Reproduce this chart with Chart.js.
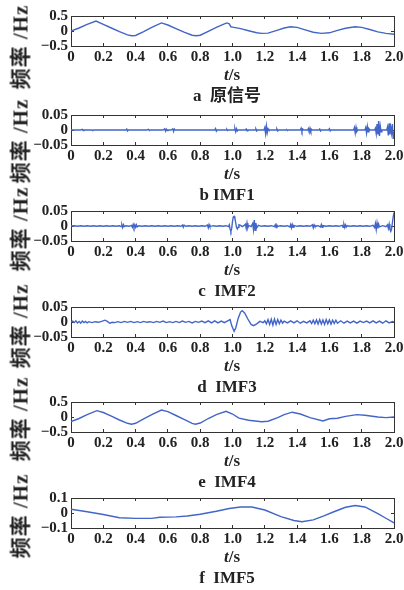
<!DOCTYPE html>
<html>
<head>
<meta charset="utf-8">
<script src="https://cdn.jsdelivr.net/npm/chart.js@4.4.0/dist/chart.umd.min.js"></script>
<style>
  html, body { margin: 0; padding: 0; background: #fff; }
  body { width: 404px; height: 590px; overflow: hidden; position: relative; }
  canvas { position: absolute; left: 0; }
  .lbl {
    position: absolute; white-space: pre; color: #222; line-height: 1;
    font-family: "Liberation Serif", "Noto Sans CJK SC", serif; font-weight: bold;
    transform: translate(-50%, -50%);
  }
  .ylab { font-size: 21px; letter-spacing: 1px; transform: translate(-50%, -50%) rotate(-90deg); }
  .xlab { font-size: 17px; }
  .ttl { font-size: 17px; }
</style>
</head>
<body>
<script>
// ---data---

var xTicks = [0, 0.2, 0.4, 0.6, 0.8, 1.0, 1.2, 1.4, 1.6, 1.8, 2.0];
var xTickLabels = ["0", "0.2", "0.4", "0.6", "0.8", "1.0", "1.2", "1.4", "1.6", "1.8", "2.0"];

var yTicksHalf = [-0.5, 0, 0.5];
var yLabelsHalf = ["\u22120.5", "0", "0.5"];
var yTicksSmall = [-0.05, 0, 0.05];
var yLabelsSmall = ["\u22120.05", "0", "0.05"];
var yTicksTenth = [-0.1, 0, 0.1];
var yLabelsTenth = ["\u22120.1", "0", "0.1"];

var titles = ["a  原信号", "b IMF1", "c  IMF2", "d  IMF3", "e  IMF4", "f  IMF5"];
var yTitle = "频率 /Hz";

// a: original signal
var aT = [0, 0.05, 0.1, 0.155, 0.2, 0.25, 0.3, 0.35, 0.375, 0.4, 0.45, 0.5, 0.56, 0.6, 0.65, 0.7, 0.75, 0.775, 0.8,
  0.85, 0.9, 0.95, 0.965, 0.98, 0.99, 1.0, 1.05, 1.1, 1.15, 1.18, 1.22, 1.28, 1.32, 1.36, 1.4, 1.45, 1.5, 1.55,
  1.6, 1.65, 1.7, 1.76, 1.8, 1.85, 1.9, 1.95, 2.0];
var aV = [0, 0.1, 0.22, 0.33, 0.22, 0.1, -0.02, -0.13, -0.16, -0.15, -0.02, 0.12, 0.27, 0.2, 0.08, -0.04, -0.14, -0.16, -0.14,
  -0.01, 0.12, 0.24, 0.27, 0.24, 0.14, 0.13, 0.08, 0.01, -0.06, -0.08, -0.07, 0.03, 0.1, 0.14, 0.12, 0.04, -0.04, -0.08,
  -0.06, 0.02, 0.09, 0.14, 0.12, 0.05, -0.03, -0.08, -0.11];

// b: IMF1
var bT = [0, 0.06, 0.07, 0.075, 0.08, 0.13, 0.135, 0.14, 0.34, 0.345, 0.35, 0.355, 0.47, 0.48, 0.485, 0.49,
  0.57, 0.58, 0.585, 0.59, 0.595, 0.6, 0.62, 0.63, 0.635, 0.64, 0.645, 0.89, 0.895, 0.9, 0.905,
  0.96, 0.965, 0.97, 0.975, 1.01, 1.015, 1.02, 1.025, 1.03, 1.035, 1.08, 1.085, 1.09, 1.095,
  1.14, 1.145, 1.15, 1.155, 1.195, 1.2, 1.205, 1.21, 1.215, 1.22, 1.225, 1.27, 1.275, 1.28, 1.285,
  1.33, 1.335, 1.34, 1.345, 1.42, 1.425, 1.43, 1.435, 1.44, 1.465, 1.47, 1.475, 1.48, 1.485, 1.49, 1.495,
  1.535, 1.54, 1.545, 1.55, 1.595, 1.6, 1.605, 1.61, 1.75, 1.755, 1.76, 1.765, 1.77, 1.775,
  1.82, 1.825, 1.83, 1.835, 1.84, 1.845, 1.85, 1.88, 1.885, 1.89, 1.895, 1.9, 1.905, 1.91, 1.915, 1.92, 1.925,
  1.955, 1.96, 1.965, 1.97, 1.975, 1.98, 1.985, 1.99, 1.995, 2.0];
var bV = [0, 0, 0.002, -0.002, 0, 0, -0.002, 0, 0, 0.003, -0.003, 0, 0, 0.002, -0.002, 0,
  0, 0.004, -0.004, 0.003, -0.002, 0, 0, 0.004, -0.005, 0.003, 0, 0, 0.005, -0.004, 0,
  0, 0.002, -0.002, 0, 0, 0.005, -0.006, 0.004, -0.003, 0, 0, 0.003, -0.003, 0,
  0, 0.003, -0.003, 0, 0, 0.008, -0.012, 0.013, -0.009, 0.004, 0, 0, 0.003, -0.003, 0,
  0, 0.002, -0.002, 0, 0, 0.006, -0.005, 0.003, 0, 0, 0.005, -0.007, 0.006, -0.004, 0.002, 0,
  0, 0.003, -0.003, 0, 0, 0.004, -0.003, 0, 0, 0.008, -0.01, 0.009, -0.005, 0,
  0, 0.008, -0.01, 0.012, -0.006, 0.004, 0, 0, 0.006, -0.012, 0.02, -0.015, 0.03, -0.02, 0.012, -0.006, 0,
  0, 0.01, -0.018, 0.022, -0.015, 0.008, -0.01, 0.02, -0.03, -0.005];

// c: IMF2
var cT = [0, 0.02, 0.04, 0.06, 0.08, 0.1, 0.12, 0.14, 0.16, 0.18, 0.2, 0.22, 0.24, 0.26, 0.28, 0.3,
  0.31, 0.315, 0.32, 0.325, 0.33, 0.34, 0.36, 0.375, 0.38, 0.385, 0.39, 0.395, 0.4, 0.405, 0.41,
  0.42, 0.44, 0.46, 0.48, 0.5, 0.52, 0.54, 0.56, 0.58, 0.6, 0.62, 0.64, 0.66, 0.68, 0.69, 0.695, 0.7,
  0.71, 0.73, 0.75, 0.77, 0.79, 0.81, 0.83, 0.845, 0.85, 0.855, 0.86, 0.88, 0.9, 0.92, 0.94, 0.96,
  0.975, 0.98, 0.985, 0.99, 0.995, 1.0, 1.005, 1.01, 1.015, 1.02, 1.025, 1.03, 1.035, 1.04, 1.05,
  1.06, 1.07, 1.08, 1.085, 1.09, 1.095, 1.1, 1.115, 1.125, 1.13, 1.135, 1.14, 1.145, 1.15, 1.16,
  1.18, 1.2, 1.22, 1.24, 1.26, 1.265, 1.27, 1.275, 1.28, 1.3, 1.32, 1.34, 1.355, 1.36, 1.365, 1.37,
  1.375, 1.38, 1.4, 1.42, 1.44, 1.46, 1.48, 1.495, 1.5, 1.505, 1.51, 1.53, 1.545, 1.55, 1.555, 1.56,
  1.58, 1.6, 1.62, 1.64, 1.66, 1.68, 1.685, 1.69, 1.695, 1.7, 1.705, 1.71, 1.73, 1.75, 1.77, 1.79,
  1.81, 1.83, 1.85, 1.87, 1.88, 1.885, 1.89, 1.895, 1.9, 1.905, 1.91, 1.93, 1.95, 1.96, 1.965, 1.97,
  1.975, 1.98, 1.985, 1.99, 1.995, 2.0];
var cV = [0, 0.001, -0.001, 0.001, -0.001, 0.001, -0.001, 0.001, -0.001, 0.001, -0.001, 0.001, -0.001, 0.001, -0.001, 0.001,
  -0.002, 0.004, -0.005, 0.004, -0.002, 0.001, -0.001, 0.002, -0.004, 0.005, -0.005, 0.004, -0.004, 0.004, -0.003,
  0.001, -0.001, 0.001, -0.001, 0.001, -0.001, 0.001, -0.001, 0.001, -0.001, 0.001, -0.001, 0.001, -0.001, 0.003, -0.004, 0.003,
  -0.001, 0.001, -0.001, 0.001, -0.001, 0.001, -0.001, 0.003, -0.006, 0.005, -0.002, 0.001, -0.001, 0.001, -0.001, 0.001,
  -0.002, 0.004, -0.01, -0.018, -0.008, 0.015, 0.03, 0.032, 0.025, 0.01, -0.005, -0.01, -0.004, 0.004, 0.002,
  -0.002, 0.001, 0.006, -0.008, 0.01, -0.006, 0.002, -0.002, 0.008, -0.012, 0.02, -0.014, 0.01, -0.006, 0.002,
  -0.001, 0.001, -0.001, 0.001, -0.002, 0.004, -0.005, 0.003, -0.001, 0.001, -0.001, 0.001, -0.003, 0.005, -0.006, 0.005,
  -0.004, 0.002, -0.001, 0.001, -0.001, 0.001, -0.001, 0.004, -0.006, 0.004, -0.001, 0.001, -0.003, 0.005, -0.004, 0.001,
  -0.001, 0.001, -0.001, 0.001, -0.001, 0.002, -0.004, 0.005, -0.005, 0.004, -0.003, 0.001, -0.001, 0.001, -0.001, 0.001,
  -0.001, 0.001, -0.001, 0.002, -0.005, 0.008, -0.012, 0.01, -0.008, 0.006, -0.003, 0.001, -0.002, 0.004, -0.008, 0.006,
  -0.012, -0.018, -0.01, 0.01, 0.03, 0.045];

// d: IMF3
var dT = [0, 0.01, 0.02, 0.03, 0.04, 0.05, 0.06, 0.07, 0.08, 0.09, 0.1, 0.11, 0.13, 0.15, 0.17, 0.19, 0.21,
  0.225, 0.24, 0.255, 0.27, 0.29, 0.31, 0.33, 0.35, 0.37, 0.39, 0.41, 0.43, 0.45, 0.47, 0.49, 0.51, 0.53,
  0.55, 0.57, 0.59, 0.61, 0.63, 0.65, 0.67, 0.69, 0.71, 0.73, 0.75, 0.77, 0.79, 0.81, 0.83, 0.85, 0.87,
  0.89, 0.91, 0.93, 0.95, 0.97, 0.985, 0.995, 1.01, 1.02, 1.035, 1.05, 1.06, 1.075, 1.095, 1.115, 1.13,
  1.15, 1.17, 1.19, 1.2, 1.21, 1.22, 1.23, 1.24, 1.25, 1.26, 1.27, 1.28, 1.29, 1.3, 1.31, 1.32, 1.34,
  1.36, 1.38, 1.4, 1.42, 1.44, 1.46, 1.48, 1.49, 1.5, 1.51, 1.52, 1.53, 1.54, 1.55, 1.56, 1.57, 1.58,
  1.59, 1.6, 1.61, 1.62, 1.63, 1.64, 1.65, 1.67, 1.69, 1.71, 1.73, 1.75, 1.77, 1.79, 1.81, 1.83, 1.85,
  1.87, 1.89, 1.91, 1.93, 1.95, 1.97, 1.99, 2.0];
var dV = [0, 0.003, -0.002, 0.004, -0.003, 0.002, -0.004, 0.003, -0.002, 0.002, -0.003, 0.001, -0.002, 0.001, -0.001, 0.002, 0.006,
  0.002, -0.004, -0.001, -0.002, 0.001, -0.002, 0.002, -0.001, 0.002, -0.002, 0.001, -0.002, 0.002, -0.001, 0.001, -0.002, 0.002,
  -0.001, 0.003, -0.002, 0.001, -0.002, 0.002, -0.002, 0.003, -0.001, 0.002, -0.003, 0.002, -0.001, 0.003, -0.002, 0.004, -0.003,
  0.004, -0.003, 0.003, -0.002, 0.004, 0.008, -0.012, -0.031, -0.02, 0.012, 0.033, 0.038, 0.03, 0.01, -0.008, -0.012,
  -0.006, 0.002, -0.002, 0.004, -0.006, 0.008, -0.008, 0.009, -0.01, 0.01, -0.008, 0.008, -0.006, 0.006, -0.004, 0.003, -0.003,
  0.004, -0.003, 0.004, -0.004, 0.002, -0.003, 0.004, -0.005, 0.006, -0.006, 0.007, -0.007, 0.008, -0.007, 0.007, -0.008, 0.008,
  -0.006, 0.007, -0.007, 0.006, -0.005, 0.006, -0.004, 0.004, -0.004, 0.003, -0.003, 0.003, -0.004, 0.003, -0.002, 0.003, -0.003,
  0.004, -0.003, 0.003, -0.004, 0.004, -0.003, 0.002, 0];

// e: IMF4
var eT = [0, 0.05, 0.1, 0.16, 0.2, 0.25, 0.3, 0.35, 0.375, 0.4, 0.45, 0.5, 0.56, 0.6, 0.65, 0.7, 0.75, 0.77, 0.8,
  0.85, 0.9, 0.96, 1.0, 1.04, 1.1, 1.18, 1.22, 1.28, 1.32, 1.37, 1.42, 1.48, 1.56, 1.6, 1.65, 1.7, 1.77,
  1.82, 1.9, 1.95, 2.0];
var eV = [-0.15, -0.05, 0.08, 0.21, 0.15, 0.03, -0.1, -0.21, -0.24, -0.21, -0.06, 0.08, 0.23, 0.18, 0.05, -0.08, -0.21, -0.24, -0.2,
  -0.05, 0.08, 0.19, 0.1, -0.04, -0.11, -0.16, -0.14, -0.02, 0.08, 0.16, 0.1, -0.02, -0.13, -0.06, -0.04, 0.02, 0.08,
  0.06, 0, -0.02, 0];

// f: IMF5
var fT = [0, 0.1, 0.2, 0.3, 0.4, 0.5, 0.55, 0.65, 0.72, 0.8, 0.9, 0.98, 1.05, 1.12, 1.2, 1.3, 1.38, 1.43, 1.5,
  1.57, 1.62, 1.7, 1.76, 1.82, 1.9, 1.95, 2.0];
var fV = [0.025, 0.008, -0.01, -0.032, -0.036, -0.036, -0.028, -0.026, -0.02, -0.008, 0.012, 0.03, 0.04, 0.04, 0.02,
  -0.024, -0.05, -0.058, -0.046, -0.018, 0.005, 0.038, 0.05, 0.04, -0.004, -0.035, -0.066];

// ---layout---

var lineBlue = "#4266c8";
var frameColor = "#333";
var tickFont = { family: "Liberation Serif", size: 15, weight: "bold" };

var panels = [
  { t: aT, v: aV, yTicks: yTicksHalf, yLabels: yLabelsHalf, top: 13, labelY: 47 },
  { t: bT, v: bV, yTicks: yTicksSmall, yLabels: yLabelsSmall, top: 112, labelY: 141 },
  { t: cT, v: cV, yTicks: yTicksSmall, yLabels: yLabelsSmall, top: 208, labelY: 229 },
  { t: dT, v: dV, yTicks: yTicksSmall, yLabels: yLabelsSmall, top: 304, labelY: 326 },
  { t: eT, v: eV, yTicks: yTicksHalf, yLabels: yLabelsHalf, top: 399, labelY: 419 },
  { t: fT, v: fV, yTicks: yTicksTenth, yLabels: yLabelsTenth, top: 495, labelY: 516 }
];

function addText(cls, html, x, y) {
  var d = document.createElement("div");
  d.className = "lbl " + cls;
  d.innerHTML = html;
  d.style.left = x + "px";
  d.style.top = y + "px";
  document.body.appendChild(d);
}

function xAxis(pos, showLabels) {
  return {
    type: "linear", position: pos, min: 0, max: 2,
    afterBuildTicks: function (s) { s.ticks = xTicks.map(function (v) { return { value: v }; }); },
    afterFit: function (s) { s.height = showLabels ? 22 : 0; },
    grid: { drawOnChartArea: false, drawTicks: true, tickLength: -3, tickColor: frameColor },
    border: { display: true, color: frameColor, width: 1 },
    ticks: {
      display: showLabels, padding: 5, maxRotation: 0, autoSkip: false,
      font: tickFont, color: "#222",
      callback: function (v, i) { return xTickLabels[i]; }
    }
  };
}

function yAxis(p, pos, showLabels) {
  return {
    type: "linear", position: pos,
    min: p.yTicks[0], max: p.yTicks[p.yTicks.length - 1],
    afterBuildTicks: function (s) { s.ticks = p.yTicks.map(function (v) { return { value: v }; }); },
    afterFit: function (s) { s.width = showLabels ? 71 : 0; },
    grid: { drawOnChartArea: false, drawTicks: true, tickLength: -3, tickColor: frameColor },
    border: { display: true, color: frameColor, width: 1 },
    ticks: {
      display: showLabels, padding: 6, autoSkip: false,
      font: tickFont, color: "#222",
      callback: function (v, i) { return p.yLabels[i]; }
    }
  };
}

panels.forEach(function (p, n) {
  var cv = document.createElement("canvas");
  cv.width = 414;
  cv.height = 67;
  cv.style.top = (p.top - 12) + "px";
  document.body.appendChild(cv);

  var pts = p.t.map(function (t, i) { return { x: t, y: p.v[i] }; });

  new Chart(cv.getContext("2d"), {
    type: "line",
    data: {
      datasets: [{
        data: pts, xAxisID: "x", yAxisID: "y",
        borderColor: lineBlue, borderWidth: 1.4,
        pointRadius: 0, tension: 0, fill: false
      }]
    },
    options: {
      responsive: false,
      animation: false,
      layout: { padding: { top: 12, right: 20, left: 0, bottom: 0 } },
      plugins: { legend: { display: false }, tooltip: { enabled: false } },
      scales: {
        x: xAxis("bottom", true),
        x2: xAxis("top", false),
        y: yAxis(p, "left", true),
        y2: yAxis(p, "right", false)
      }
    }
  });

  addText("ylab", yTitle, 21, p.labelY);
  addText("xlab", "<i>t</i>/s", 232, p.top + 61);
  addText("ttl", titles[n], 227, p.top + 82);
});
</script>
</body>
</html>
